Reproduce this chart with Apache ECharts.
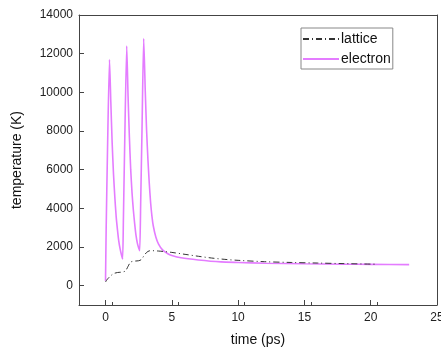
<!DOCTYPE html>
<html><head><meta charset="utf-8">
<script src="https://cdn.jsdelivr.net/npm/echarts@6/dist/echarts.min.js"></script>
<style>html,body{margin:0;padding:0;background:#fff}#c{width:441px;height:349px}</style>
</head><body><div id="c"></div>
<script>
var latticeTime = [0, 0.1, 0.3, 0.6, 0.9, 1.2, 1.5, 1.7, 1.9, 2.2, 2.5, 2.7, 2.9, 3.1, 3.3, 3.5, 4.0, 4.5, 5.0, 6.0, 7.0, 8.0, 9.0, 10.0, 12.0, 14.0, 16.0, 18.0, 20.5];
var latticeTemp = [190, 300, 450, 620, 680, 700, 760, 1000, 1220, 1270, 1290, 1350, 1550, 1720, 1800, 1810, 1790, 1760, 1720, 1620, 1520, 1430, 1360, 1310, 1240, 1200, 1170, 1140, 1110];
var electronTime = [0, 0.05, 0.15, 0.3, 0.4, 0.5, 0.6, 0.7, 0.8, 0.9, 1.0, 1.1, 1.2, 1.29, 1.35, 1.45, 1.6, 1.7, 1.8, 1.9, 2.0, 2.1, 2.2, 2.3, 2.4, 2.5, 2.58, 2.65, 2.75, 2.88, 3.0, 3.1, 3.2, 3.3, 3.4, 3.5, 3.6, 3.8, 4.0, 4.3, 4.7, 5.0, 5.7, 7.0, 8.7, 10, 12, 15, 18, 20, 22.9];
var electronTemp = [250, 3000, 7000, 11700, 9500, 7400, 5800, 4600, 3600, 2900, 2300, 1900, 1600, 1380, 3500, 7500, 12400, 9800, 7700, 6000, 4800, 3900, 3200, 2600, 2200, 1950, 1810, 4200, 8000, 12780, 10000, 8000, 6500, 5300, 4300, 3600, 3100, 2500, 2150, 1850, 1650, 1560, 1440, 1330, 1230, 1200, 1160, 1130, 1110, 1100, 1090];
var xTicks = [0, 5, 10, 15, 20, 25];
var yTicks = [0, 2000, 4000, 6000, 8000, 10000, 12000, 14000];

function pairs(a, b){ return a.map(function(v,i){ return [v, b[i]]; }); }
var font = 'Liberation Sans, Arial, sans-serif';
var chart = echarts.init(document.getElementById('c'), null, {renderer:'canvas'});
chart.setOption({
  animation:false,
  backgroundColor:'#fff',
  grid:{left:79, right:4, top:15, bottom:44, containLabel:false, outerBoundsMode:'none'},
  legend:{
    orient:'vertical', left:301, top:28, itemWidth:36, itemHeight:10, itemGap:6,
    borderColor:'#888', borderWidth:1, padding:[4,2,3,1], backgroundColor:'#fff',
    itemStyle:{opacity:0},
    textStyle:{fontFamily:font, fontSize:14, color:'#111', padding:[0,0,0,-3]},
    data:['lattice','electron']
  },
  xAxis:[{
    type:'value', min:-2, max:25, interval:5,
    name:'time (ps)', nameLocation:'middle', nameGap:28,
    nameTextStyle:{fontFamily:font, fontSize:14, color:'#111'},
    axisLine:{show:true, onZero:false, lineStyle:{color:'#444', width:1}},
    axisTick:{show:true, inside:true, length:5, lineStyle:{color:'#444'}, customValues:xTicks},
    minorTick:{show:true, splitNumber:2, length:3, lineStyle:{color:'#444'}},
    axisLabel:{fontFamily:font, fontSize:12, color:'#222', margin:7, customValues:xTicks},
    splitLine:{show:false}
  },{
    type:'value', position:'top', min:-2, max:25,
    axisLine:{show:true, onZero:false, lineStyle:{color:'#444'}},
    axisTick:{show:false}, axisLabel:{show:false}, splitLine:{show:false}
  }],
  yAxis:[{
    type:'value', min:-1000, max:14000, interval:1000,
    name:'temperature (K)', nameLocation:'middle', nameGap:55, nameRotate:90,
    nameTextStyle:{fontFamily:font, fontSize:14, color:'#111'},
    axisLine:{show:true, onZero:false, lineStyle:{color:'#444', width:1}},
    axisTick:{show:true, inside:true, length:5, lineStyle:{color:'#444'}, customValues:yTicks},
    minorTick:{show:false},
    axisLabel:{fontFamily:font, fontSize:12, color:'#222', margin:6, customValues:yTicks,
      formatter:function(v){ return String(v); }},
    splitLine:{show:false}
  },{
    type:'value', position:'right', min:-1000, max:14000,
    axisLine:{show:true, onZero:false, lineStyle:{color:'#444'}},
    axisTick:{show:false}, axisLabel:{show:false}, splitLine:{show:false}
  }],
  series:[{
    name:'lattice', type:'line', symbol:'none', smooth:0.3,
    data:pairs(latticeTime, latticeTemp),
    lineStyle:{color:'#333', width:1, type:[6,3,1,3]}, itemStyle:{color:'#333'}, z:3
  },{
    name:'electron', type:'line', symbol:'none', smooth:0.2,
    data:pairs(electronTime, electronTemp),
    lineStyle:{color:'#e47cff', width:1.6}, itemStyle:{color:'#e47cff'}, z:2
  }]
});
</script></body></html>
